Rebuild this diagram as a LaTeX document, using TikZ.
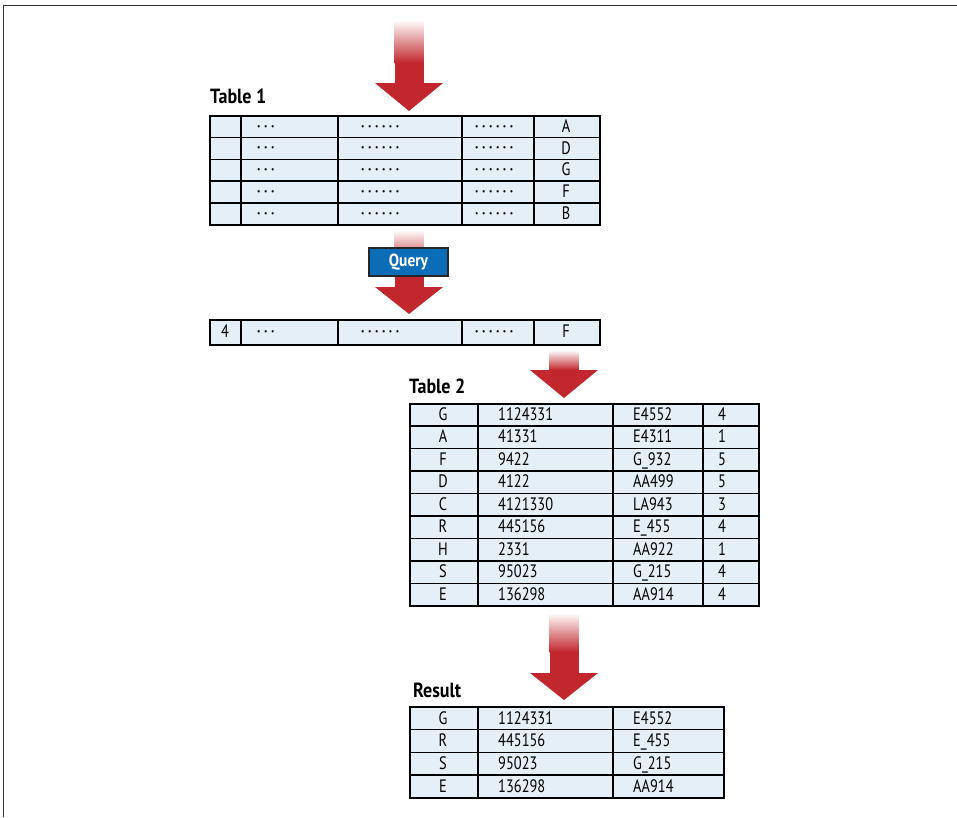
\documentclass[tikz,border=0pt]{standalone}
\usepackage{fontspec}
\setmainfont{PT Sans}
\newfontfamily\cellfont[FakeStretch=0.8]{PT Sans}
\newfontfamily\headfont[FakeStretch=0.88]{PT Sans}
\definecolor{ared}{HTML}{C1272D}
\definecolor{cellblue}{HTML}{E5EFF7}
\definecolor{qblue}{HTML}{0B6CB8}
\definecolor{frame}{HTML}{333333}
\newcommand\redarrow[5]{%
  \shade[top color=white, bottom color=ared] (#1-14.5,#2) rectangle (#1+14.5,#3);
  \fill[ared] (#1-14.5,#3+0.3) rectangle (#1+14.5,#4+0.5);
  \fill[ared] (#1-34,#4) -- (#1+34,#4) -- (#1,#5) -- cycle;}
\newcommand\dgap{\hspace{3.6pt}}
\newcommand\dthree{·\dgap·\dgap·}
\newcommand\dsix{·\dgap·\dgap·\dgap·\dgap·\dgap·}
\begin{document}
\begin{tikzpicture}[x=1pt,y=-1pt,
  cell/.style={draw=black, line width=1.6pt, fill=cellblue, anchor=north west, inner sep=0pt},
  txt/.style={font=\cellfont\fontsize{18}{20}\selectfont, inner sep=0pt},
  dotsty/.style={font=\headfont\bfseries\fontsize{15}{17}\selectfont, inner sep=0pt, anchor=base west},
  title/.style={font=\headfont\bfseries\fontsize{20.5}{24}\selectfont, inner sep=0pt, anchor=base west},
  qbtn/.style={draw=black!85, line width=1.4pt, fill=qblue, text=white, font=\headfont\bfseries\fontsize{17.5}{20}\selectfont, minimum width=79, minimum height=28, inner sep=0pt}]
\useasboundingbox (0,0) rectangle (957,817);
\fill[white] (0,0) rectangle (957,817);
% frame
\draw[line width=1.6pt, draw=frame] (3.5,817) -- (3.5,5.5) -- (957,5.5);

% top arrow
\redarrow{409}{20}{63}{83}{111}

% Table 1
\node[title] (t1title) at (210,103.5) {Table 1};
\foreach \r/\L in {0/A,1/D,2/G,3/F,4/B} {
  \foreach \xa/\xb/\c in {209/240/1, 240/337/2, 337/461/3, 461/533/4, 533/599/5} {
    \node[cell, minimum width={\xb-\xa}, minimum height=21.8] (ta-\r-\c) at (\xa,{115+21.8*\r}) {};
  }
  \node[dotsty] (ta-d2-\r) at (257,{131+21.8*\r}) {\dthree};
  \node[dotsty] (ta-d3-\r) at (361,{131+21.8*\r}) {\dsix};
  \node[dotsty] (ta-d4-\r) at (475,{131+21.8*\r}) {\dsix};
  \node[txt, anchor=base] (ta-l-\r) at (566,{132.2+21.8*\r}) {\L};
}

% query arrow
\redarrow{409}{230}{266}{287}{314}
\node[qbtn] (query) at (408.5,262) {Query};

% result row
\foreach \xa/\xb/\c in {209/240/1, 240/337/2, 337/461/3, 461/533/4, 533/599/5} {
  \node[cell, minimum width={\xb-\xa}, minimum height=25] (rr-\c) at (\xa,319) {};
}
\node[txt, anchor=base] (rr-t1) at (225,337.5) {4};
\node[dotsty] (rr-t2) at (257,336.5) {\dthree};
\node[dotsty] (rr-t3) at (361,336.5) {\dsix};
\node[dotsty] (rr-t4) at (475,336.5) {\dsix};
\node[txt, anchor=base] (rr-t5) at (566,337.5) {F};

% arrow to table 2
\redarrow{564}{350}{370}{370}{398}

% Table 2
\node[title] (t2title) at (409,393.5) {Table 2};
\foreach \r/\a/\b/\cc/\d in {0/G/1124331/E4552/4, 1/A/41331/E4311/1, 2/F/9422/G\_932/5,
   3/D/4122/AA499/5, 4/C/4121330/LA943/3, 5/R/445156/E\_455/4, 6/H/2331/AA922/1,
   7/S/95023/G\_215/4, 8/E/136298/AA914/4} {
  \foreach \xa/\xb/\c in {409/477/1, 477/612/2, 612/702/3, 702/758/4} {
    \node[cell, minimum width={\xb-\xa}, minimum height=22.44] (tb-\r-\c) at (\xa,{403+22.44*\r}) {};
  }
  \node[txt, anchor=base] (tb-a-\r) at (443,{420.5+22.44*\r}) {\a};
  \node[txt, anchor=base west] (tb-b-\r) at (498,{420.5+22.44*\r}) {\b};
  \node[txt, anchor=base west] (tb-c-\r) at (633,{420.5+22.44*\r}) {\cc};
  \node[txt, anchor=base] (tb-d-\r) at (722,{420.5+22.44*\r}) {\d};
}

% arrow to result
\redarrow{564}{613}{652}{673}{700}

% Result
\node[title] (restitle) at (413,697) {Result};
\foreach \r/\a/\b/\cc in {0/G/1124331/E4552, 1/R/445156/E\_455, 2/S/95023/G\_215, 3/E/136298/AA914} {
  \foreach \xa/\xb/\c in {409/477/1, 477/612/2, 612/723/3} {
    \node[cell, minimum width={\xb-\xa}, minimum height=22.75] (tr-\r-\c) at (\xa,{706+22.75*\r}) {};
  }
  \node[txt, anchor=base] (tr-a-\r) at (443,{724+22.75*\r}) {\a};
  \node[txt, anchor=base west] (tr-b-\r) at (498,{724+22.75*\r}) {\b};
  \node[txt, anchor=base west] (tr-c-\r) at (633,{724+22.75*\r}) {\cc};
}
\end{tikzpicture}
\end{document}
